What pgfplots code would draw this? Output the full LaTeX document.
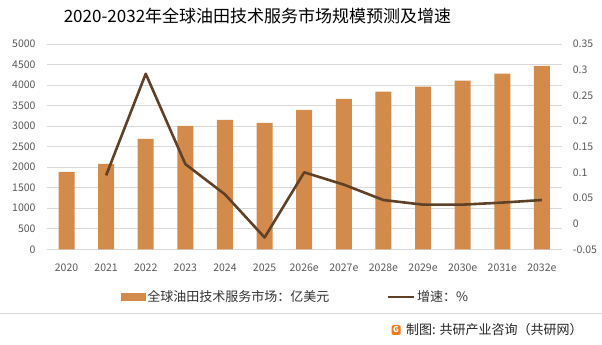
\documentclass[border=0pt]{standalone}
\usepackage{pgfplots}
\pgfplotsset{compat=1.18}
\usepackage{fontspec}
\setmainfont{Noto Sans CJK SC}
\definecolor{barc}{HTML}{D38B4C}
\definecolor{linec}{HTML}{5F4128}
\definecolor{gridc}{HTML}{D9D9D9}
\definecolor{tickc}{HTML}{595959}
\definecolor{logoc}{HTML}{F07A1E}
\begin{document}
\begin{tikzpicture}
\path[use as bounding box, fill=white] (0pt,0pt) rectangle (602pt,345pt);
\node[font=\fontsize{17}{20}\selectfont, text=black] at (257.5pt,329pt) {2020-2032年全球油田技术服务市场规模预测及增速};
\begin{axis}[
  at={(46.7pt,95.7pt)}, anchor=south west, scale only axis,
  width=515pt, height=205.3pt,
  xmin=-0.5, xmax=12.5, ymin=0, ymax=5000,
  ytick={0,500,...,5000},
  xtick={0,...,12},
  xticklabels={2020,2021,2022,2023,2024,2025,2026e,2027e,2028e,2029e,2030e,2031e,2032e},
  axis line style={draw=none}, major tick length=0pt,
  ymajorgrids, grid style={draw=gridc, line width=0.9pt},
  /pgf/number format/1000 sep={},
  /pgf/number format/assume math mode=true,
  yticklabel style={font=\fontsize{10.5}{12}\selectfont, text=tickc, inner sep=0pt, anchor=east, xshift=-11pt},
  xticklabel style={font=\fontsize{10.5}{12}\selectfont, text=tickc, inner sep=0pt, anchor=north, yshift=-14.5pt},
  legend style={draw=none, fill=none, at={(axis description cs:0.138,-0.232)}, anchor=west,
    font=\fontsize{13}{15}\selectfont, text=black!80, legend columns=2,
    /tikz/every even column/.append style={column sep=56pt},
    nodes={inner sep=1.5pt}},
  legend cell align=left,
  clip=false,
]
\addplot[ybar, bar width=16pt, fill=barc, draw=none,
  legend image code/.code={\fill[barc] (0pt,-4pt) rectangle (25pt,4pt);}]
  coordinates {(0,1885) (1,2080) (2,2690) (3,3007) (4,3154) (5,3080) (6,3398) (7,3666) (8,3837) (9,3959) (10,4105) (11,4276) (12,4470)};
\addlegendentry{全球油田技术服务市场：亿美元}
\addlegendimage{legend image code/.code={\draw[linec, line width=2.6pt] (0pt,0pt) -- (26pt,0pt);}}
\addlegendentry{增速：\%}
\end{axis}
\begin{axis}[
  at={(46.7pt,95.7pt)}, anchor=south west, scale only axis,
  width=515pt, height=205.3pt,
  xmin=-0.5, xmax=12.5, ymin=-0.05, ymax=0.35,
  ytick={-0.05,0,0.05,0.1,0.15,0.2,0.25,0.3,0.35},
  yticklabels={-0.05,0,0.05,0.1,0.15,0.2,0.25,0.3,0.35},
  axis y line*=right, hide x axis,
  axis line style={draw=none}, major tick length=0pt,
  yticklabel style={font=\fontsize{10.5}{12}\selectfont, text=tickc, inner sep=0pt, anchor=west, xshift=11pt},
]
\addplot[color=linec, line width=2.6pt, line join=round]
  coordinates {(1,0.094) (2,0.292) (3,0.116) (4,0.057) (5,-0.027) (6,0.100) (7,0.076) (8,0.046) (9,0.037) (10,0.037) (11,0.041) (12,0.046)};
\end{axis}
\draw[gridc, line width=0.9pt] (0pt,32pt) -- (602pt,32pt);
\fill[logoc, rounded corners=1.5pt] (391.5pt,10pt) rectangle (400.5pt,20pt);
\node[text=white, font=\bfseries\fontsize{8}{9}\selectfont, inner sep=0pt] at (396pt,15pt) {G};
\node[anchor=west, font=\fontsize{13}{15}\selectfont, text=black!85, inner sep=0pt] at (406pt,15pt) {制图: 共研产业咨询（共研网）};
\end{tikzpicture}
\end{document}
